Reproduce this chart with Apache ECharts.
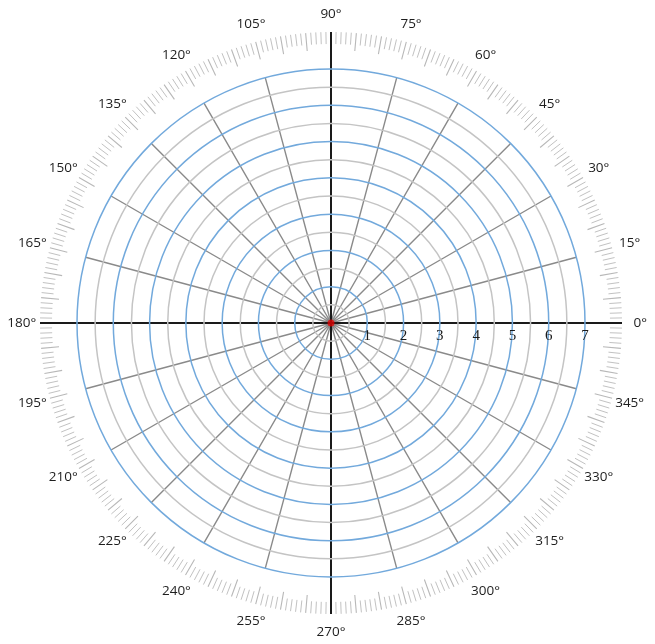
<!DOCTYPE html>
<html>
<head>
<meta charset="utf-8">
<script src="https://cdn.jsdelivr.net/npm/echarts@6/dist/echarts.min.js"></script>
<style>html,body{margin:0;padding:0;background:#fff;}#c{width:655px;height:644px;}</style>
</head>
<body>
<div id="c"></div>
<script>
// Tick labels and data
const radiusLabels = [1, 2, 3, 4, 5, 6, 7];
const angleLabels = [0, 15, 30, 45, 60, 75, 90, 105, 120, 135, 150, 165, 180, 195, 210, 225, 240, 255, 270, 285, 300, 315, 330, 345];
const centerPoint = [[0, 0]];
const labelRingRadius = 8.5;

const chart = echarts.init(document.getElementById('c'), null, {renderer: 'canvas'});

// splitLine color cycle for ring axes: black at every 90deg (ticks every 5deg)
const axisColors = ['#1a1a1a'];
for (let i = 1; i < 18; i++) axisColors.push('rgba(0,0,0,0)');

const angleLabelData = angleLabels.map(function (a) { return [labelRingRadius, a]; });

const option = {
  backgroundColor: '#fff',
  animation: false,
  polar: [
    {center: [331, 323], radius: 254},
    {center: [331, 323], radius: 291}
  ],
  angleAxis: [
    {
      polarIndex: 0, type: 'value', min: 0, max: 360, interval: 15,
      startAngle: 0, clockwise: false,
      axisLine: {show: false}, axisTick: {show: false}, axisLabel: {show: false},
      splitLine: {show: true, lineStyle: {color: '#8a8a8a', width: 1.4}},
      z: 1
    },
    {
      polarIndex: 1, type: 'value', min: 0, max: 360, interval: 5,
      startAngle: 0, clockwise: false,
      axisLine: {show: false},
      axisTick: {show: true, inside: true, length: 18, lineStyle: {color: '#b8b8b8', width: 1.1}},
      minorTick: {show: true, splitNumber: 5, length: 12, lineStyle: {color: '#c2c2c2', width: 1}},
      axisLabel: {show: false},
      splitLine: {show: true, lineStyle: {color: axisColors, width: 2}},
      z: 5
    }
  ],
  radiusAxis: [
    {
      polarIndex: 0, type: 'value', min: 0, max: 7, interval: 0.5,
      axisLine: {show: false}, axisTick: {show: false},
      axisLabel: {
        show: true, margin: -21, color: '#1a1a1a', fontSize: 15, fontFamily: 'Liberation Serif',
        formatter: function (v) { return radiusLabels.indexOf(v) >= 0 ? String(v) : ''; }
      },
      splitLine: {show: true, lineStyle: {color: ['#72a9dc', '#c4c4c4'], width: 1.5}},
      z: 6
    },
    {
      polarIndex: 1, type: 'value', min: 0, max: 8,
      axisLine: {show: false}, axisTick: {show: false}, axisLabel: {show: false},
      splitLine: {show: false}
    }
  ],
  series: [
    {
      type: 'scatter', coordinateSystem: 'polar', polarIndex: 1,
      data: angleLabelData, symbolSize: 0, silent: true, clip: false,
      itemStyle: {color: '#111', opacity: 1},
      label: {
        show: true, position: 'inside', color: '#1e1e1e', fontSize: 13.5, fontFamily: 'Open Sans',
        textBorderWidth: 0, textBorderColor: 'transparent', opacity: 1,
        formatter: function (p) { return p.value[1] + '°'; }
      },
      z: 8
    },
    {
      type: 'scatter', coordinateSystem: 'polar', polarIndex: 0,
      data: centerPoint, symbol: 'circle', symbolSize: 7,
      itemStyle: {color: '#e00000'}, z: 10
    }
  ]
};
chart.setOption(option);
</script>
</body>
</html>
